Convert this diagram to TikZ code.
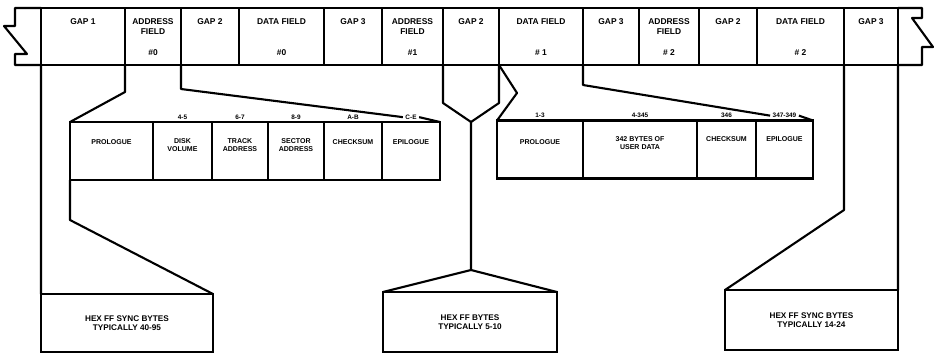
\documentclass[tikz,border=0pt]{standalone}
\usepackage{fontspec}
\setmainfont{Liberation Sans}

\begin{document}
\begin{tikzpicture}[x=0.3mm, y=-0.3mm,
    cell/.style={rectangle, draw, line width=1.8pt, outer sep=0pt, minimum height=17.1mm},
    part/.style={rectangle, draw, line width=1.8pt, outer sep=0pt, minimum height=17.4mm},
    sync/.style={rectangle, draw, line width=1.8pt, outer sep=0pt, align=center, font=\fontsize{7}{7.8}\selectfont\bfseries},
    link/.style={line width=1.8pt, line join=round},
    title/.style={inner sep=0pt, align=center, font=\fontsize{7.2}{8}\selectfont\bfseries},
    tag/.style={inner sep=0pt, align=center, font=\fontsize{6}{6.8}\selectfont\bfseries},
    byte/.style={inner sep=2pt, font=\fontsize{5.5}{5.5}\selectfont\bfseries}
]
\useasboundingbox (0,0) rectangle (937,354);

% Track strip
\node[cell, minimum width=25.2mm] (gapA) at (83,36.5) {};
\node[cell, minimum width=16.8mm] (adr0) at (153,36.5) {};
\node[cell, minimum width=17.4mm] (gapB) at (210,36.5) {};
\node[cell, minimum width=25.5mm] (dat0) at (281.5,36.5) {};
\node[cell, minimum width=17.4mm] (gapC) at (353,36.5) {};
\node[cell, minimum width=18.3mm] (adr1) at (412.5,36.5) {};
\node[cell, minimum width=16.8mm] (gapD) at (471,36.5) {};
\node[cell, minimum width=25.2mm] (dat1) at (541,36.5) {};
\node[cell, minimum width=16.8mm] (gapE) at (611,36.5) {};
\node[cell, minimum width=18mm] (adr2) at (669,36.5) {};
\node[cell, minimum width=17.4mm] (gapF) at (728,36.5) {};
\node[cell, minimum width=26.1mm] (dat2) at (800.5,36.5) {};
\node[cell, minimum width=16.2mm] (gapG) at (871,36.5) {};

% Broken ends of the strip
\draw[link] (gapA.north west) -- (15,8) -- (15,26) -- (4,26) -- (27,54) -- (15,54) -- (15,65) -- (gapA.south west);
\draw[link] (gapG.north east) -- (922,8) -- (922,18) -- (912,18) -- (933,47) -- (922,47) -- (922,65) -- (gapG.south east);

% Strip labels
\node[title] (tgapA) at (83,22) {GAP 1};
\node[title] (tadr0) at (153,26.5) {ADDRESS\\FIELD};
\node[title] (nadr0) at (153,53) {\#0};
\node[title] (tgapB) at (210,22) {GAP 2};
\node[title] (tdat0) at (281.5,22) {DATA FIELD};
\node[title] (ndat0) at (281.5,53) {\#0};
\node[title] (tgapC) at (353,22) {GAP 3};
\node[title] (tadr1) at (412.5,26.5) {ADDRESS\\FIELD};
\node[title] (nadr1) at (412.5,53) {\#1};
\node[title] (tgapD) at (471,22) {GAP 2};
\node[title] (tdat1) at (541,22) {DATA FIELD};
\node[title] (ndat1) at (541,53) {\# 1};
\node[title] (tgapE) at (611,22) {GAP 3};
\node[title] (tadr2) at (669,26.5) {ADDRESS\\FIELD};
\node[title] (nadr2) at (669,53) {\# 2};
\node[title] (tgapF) at (728,22) {GAP 2};
\node[title] (tdat2) at (800.5,22) {DATA FIELD};
\node[title] (ndat2) at (800.5,53) {\# 2};
\node[title] (tgapG) at (871,22) {GAP 3};

% Address field bytes
\node[part, minimum width=24.9mm] (pro0) at (111.5,151) {};
\node[part, minimum width=17.7mm, label={[byte]above:4-5}] (vol) at (182.5,151) {};
\node[part, minimum width=16.8mm, label={[byte]above:6-7}] (trk) at (240,151) {};
\node[part, minimum width=16.8mm, label={[byte]above:8-9}] (sec) at (296,151) {};
\node[part, minimum width=17.4mm, label={[byte]above:A-B}] (chk0) at (353,151) {};
\node[part, minimum width=17.4mm, label={[byte, name=lce]above:C-E}] (epi0) at (411,151) {};

\node[tag] (tpro0) at (111.5,142) {PROLOGUE};
\node[tag] (tvol) at (182.5,145) {DISK\\VOLUME};
\node[tag] (ttrk) at (240,145) {TRACK\\ADDRESS};
\node[tag] (tsec) at (296,145) {SECTOR\\ADDRESS};
\node[tag] (tchk0) at (353,142) {CHECKSUM};
\node[tag] (tepi0) at (411,142) {EPILOGUE};

% Data field bytes
\node[part, minimum width=25.8mm, label={[byte]above:1-3}] (pro1) at (540,149.5) {};
\node[part, minimum width=34.2mm, label={[byte]above:4-345}] (usr) at (640,149.5) {};
\node[part, minimum width=17.7mm, label={[byte]above:346}] (chk1) at (726.5,149.5) {};
\node[part, minimum width=17.1mm, label={[byte, name=lnn]above:347-349}] (epi1) at (784.5,149.5) {};

\node[tag] (tpro1) at (540,142) {PROLOGUE};
\node[tag] (tusr) at (640,143) {342 BYTES OF\\USER DATA};
\node[tag] (tchk1) at (726.5,139) {CHECKSUM};
\node[tag] (tepi1) at (784.5,139) {EPILOGUE};

% Sync byte boxes
\node[sync, minimum width=51.6mm, minimum height=17.4mm] (sync1) at (127,323) {HEX FF SYNC BYTES\\TYPICALLY 40-95};
\node[sync, minimum width=52.2mm, minimum height=18mm] (syncm) at (470,322) {HEX FF BYTES\\TYPICALLY 5-10};
\node[sync, minimum width=51.9mm, minimum height=18mm] (sync2) at (811.5,320) {HEX FF SYNC BYTES\\TYPICALLY 14-24};

% Gap 1
\draw[link] (gapA.south west) -- (sync1.north west);
\draw[link] (gapA.south east) -- ++(0,27) -- (pro0.north west);
\draw[link] (pro0.south west) -- ++(0,40) -- (sync1.north east);

% Address field #0
\draw[link] (adr0.south east) -- ++(0,24) -- (lce.west);
\draw[link] (lce.east) -- (epi0.north east);

% Gap 2
\coordinate (gtip) at (471,122);
\coordinate (groof) at (471,270);
\draw[link] (adr1.south east) -- ++(0,38) -- (gtip) -- (groof) -- (syncm.north west);
\draw[link] (dat1.south west) -- ++(0,38) -- (gtip);
\draw[link] (groof) -- (syncm.north east);

% Data field #1
\draw[link] (dat1.south west) -- ++(18,28) -- (pro1.north west);
\draw[link] (dat1.south east) -- ++(0,20) -- (lnn.west);
\draw[link] (lnn.east) -- (epi1.north east);

% Gap 3
\draw[link] (dat2.south east) -- ++(0,145) -- (sync2.north west);
\draw[link] (gapG.south east) -- (sync2.north east);

\end{tikzpicture}
\end{document}
